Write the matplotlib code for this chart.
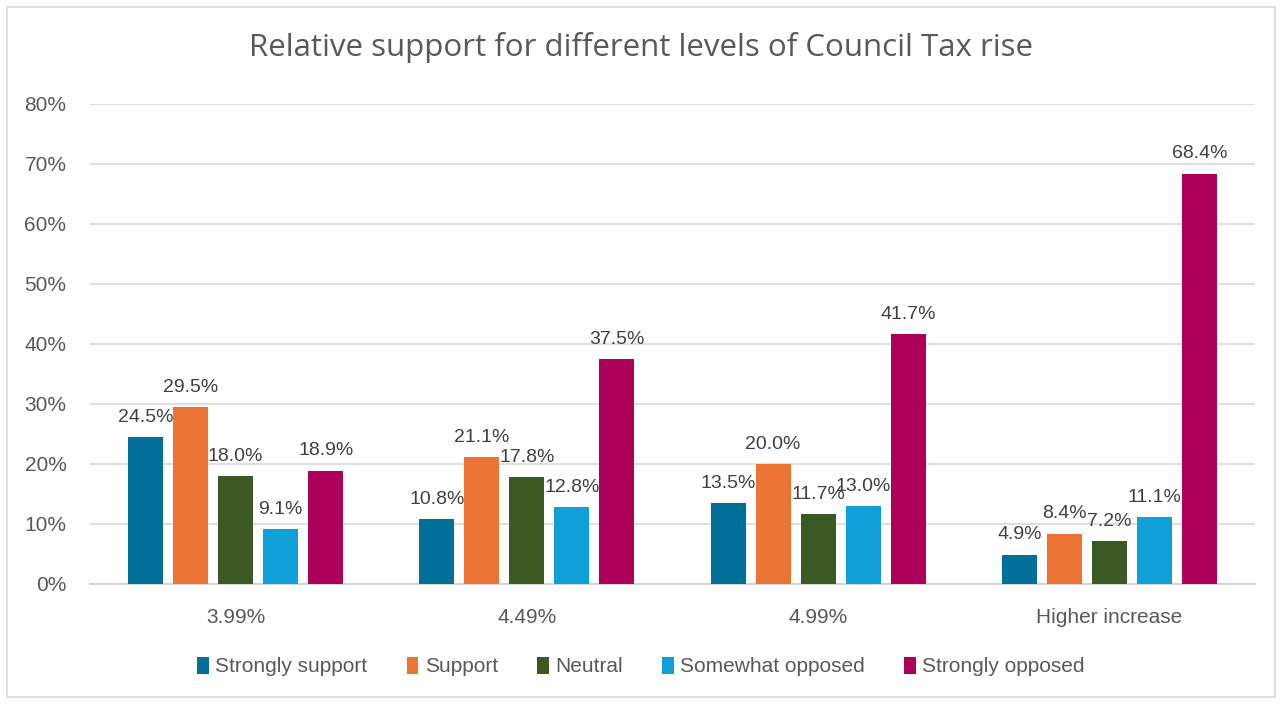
import numpy as np
import matplotlib.pyplot as plt
from matplotlib.patches import Rectangle

# 데이터
categories = ["3.99%", "4.49%", "4.99%", "Higher increase"]
series_names = ["Strongly support", "Support", "Neutral", "Somewhat opposed", "Strongly opposed"]
strongly_support = [24.5, 10.8, 13.5, 4.9]
support = [29.5, 21.1, 20.0, 8.4]
neutral = [18.0, 17.8, 11.7, 7.2]
somewhat_opposed = [9.1, 12.8, 13.0, 11.1]
strongly_opposed = [18.9, 37.5, 41.7, 68.4]
y_ticks = [0, 10, 20, 30, 40, 50, 60, 70, 80]

colors = ["#00709B", "#EB7434", "#3B5A23", "#0EA0D7", "#AD0058"]
series = [strongly_support, support, neutral, somewhat_opposed, strongly_opposed]

plt.rcParams["font.family"] = ["Liberation Sans", "DejaVu Sans"]

fig = plt.figure(figsize=(12.82, 7.04), dpi=100)
ax = fig.add_axes([0.0702, 0.1705, 0.9088, 0.6818])

# 막대 그리기
x = np.arange(len(categories))
step = 0.1546
width = 0.12
for i, (name, vals, c) in enumerate(zip(series_names, series, colors)):
    pos = x + (i - 2) * step
    bars = ax.bar(pos, vals, width, color=c, label=name, zorder=3)
    for b, v in zip(bars, vals):
        ax.annotate(f"{v:.1f}%", (b.get_x() + b.get_width() / 2, v),
                    xytext=(0, 8), textcoords="offset points",
                    ha="center", va="bottom", fontsize=14, color="#404040")

ax.set_xlim(-0.5, 3.5)
ax.set_ylim(0, 80)
ax.set_yticks(y_ticks)
ax.set_yticklabels([f"{t}%" for t in y_ticks])
ax.set_xticks(x)
ax.set_xticklabels(categories)
ax.tick_params(axis="y", length=0, pad=17, labelsize=15, labelcolor="#595959")
ax.tick_params(axis="x", length=0, pad=17, labelsize=15, labelcolor="#595959")
ax.grid(axis="y", color="#D9D9D9", linewidth=1.2, zorder=0)
for s in ["top", "right", "left"]:
    ax.spines[s].set_visible(False)
ax.spines["bottom"].set_color("#D0D0D0")
ax.spines["bottom"].set_linewidth(1.2)

fig.text(0.5, 0.932, "Relative support for different levels of Council Tax rise",
         ha="center", va="center", fontsize=22.5, color="#595959",
         family=["Open Sans", "DejaVu Sans"])

fig.legend(loc="center", bbox_to_anchor=(0.5, 0.053), ncol=5, frameon=False,
           fontsize=15, handlelength=0.55, handleheight=0.85, handletextpad=0.3,
           columnspacing=1.9, labelcolor="#595959")

# 차트 테두리
fig.patches.append(Rectangle((0.0055, 0.01), 0.989, 0.98, transform=fig.transFigure,
                             fill=False, edgecolor="#D9D9D9", linewidth=1.2))

fig.savefig("out.png", dpi=100)
